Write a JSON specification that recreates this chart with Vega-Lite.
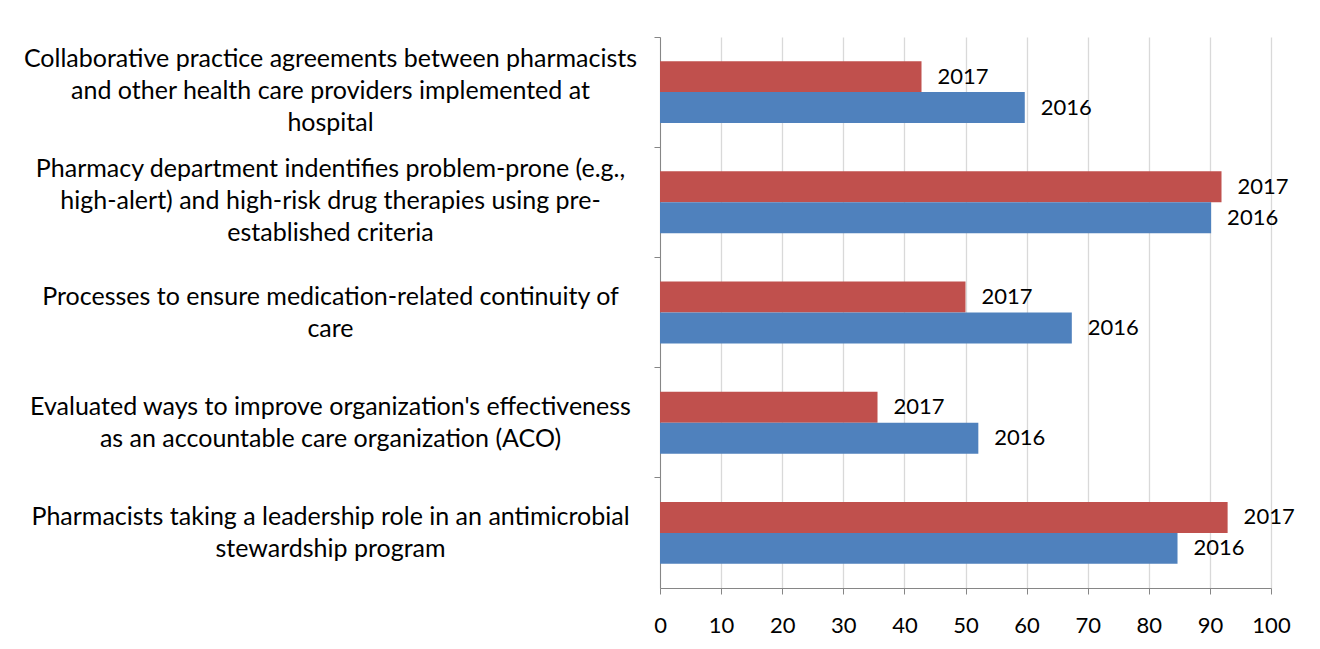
{
  "$schema": "https://vega.github.io/schema/vega-lite/v6.json",
  "autosize": {"type": "none"},
  "width": 611,
  "height": 551,
  "padding": {"left": 660, "top": 37, "right": 49, "bottom": 61},
  "background": "white",
  "config": {
    "view": {"stroke": null},
    "font": "Lato",
    "text": {"font": "Lato"}
  },
  "data": {
    "values": [
      {"item": "Collaborative practice agreements between pharmacists|and other health care providers implemented at|hospital", "year": "2017", "pct": 42.8},
      {"item": "Collaborative practice agreements between pharmacists|and other health care providers implemented at|hospital", "year": "2016", "pct": 59.7},
      {"item": "Pharmacy department indentifies problem-prone (e.g.,|high-alert) and high-risk drug therapies using pre-|established criteria", "year": "2017", "pct": 91.9},
      {"item": "Pharmacy department indentifies problem-prone (e.g.,|high-alert) and high-risk drug therapies using pre-|established criteria", "year": "2016", "pct": 90.2},
      {"item": "Processes to ensure medication-related continuity of|care", "year": "2017", "pct": 50.0},
      {"item": "Processes to ensure medication-related continuity of|care", "year": "2016", "pct": 67.4},
      {"item": "Evaluated ways to improve  organization's effectiveness|as an accountable care organization (ACO)", "year": "2017", "pct": 35.6},
      {"item": "Evaluated ways to improve  organization's effectiveness|as an accountable care organization (ACO)", "year": "2016", "pct": 52.1},
      {"item": "Pharmacists taking a leadership role in an antimicrobial|stewardship program", "year": "2017", "pct": 92.9},
      {"item": "Pharmacists taking a leadership role in an antimicrobial|stewardship program", "year": "2016", "pct": 84.7}
    ]
  },
  "encoding": {
    "y": {
      "field": "item",
      "type": "nominal",
      "sort": null,
      "title": null,
      "scale": {"paddingInner": 0, "paddingOuter": 0},
      "axis": {
        "bandPosition": 0,
        "labelExpr": "split(datum.label, '|')",
        "labelAlign": "center",
        "labelBaseline": "middle",
        "labelLineHeight": 32,
        "labelPadding": 324,
        "labelLimit": 0,
        "labelFontSize": 25,
        "labelColor": "#000000",
        "labelFont": "Lato",
        "labelOffset": {
          "condition": {"test": "length(split(datum.value, '|')) == 3", "value": -33},
          "value": -16
        },
        "tickSize": 6,
        "tickColor": "#868686",
        "domainColor": "#868686",
        "grid": false
      }
    },
    "yOffset": {
      "field": "year",
      "type": "nominal",
      "sort": ["2017", "2016"],
      "scale": {"paddingInner": 0, "paddingOuter": 0.78}
    },
    "x": {
      "field": "pct",
      "type": "quantitative",
      "title": null,
      "scale": {"domain": [0, 100], "nice": false},
      "axis": {
        "values": [0, 10, 20, 30, 40, 50, 60, 70, 80, 90, 100],
        "grid": true,
        "gridColor": "#d9d9d9",
        "gridWidth": 1.3,
        "domainColor": "#868686",
        "tickColor": "#868686",
        "tickSize": 6,
        "labelFontSize": 22,
        "labelColor": "#000000",
        "labelFont": "Lato",
        "labelPadding": 21,
        "labelFlush": false
      }
    }
  },
  "layer": [
    {
      "mark": {"type": "bar"},
      "encoding": {
        "color": {
          "field": "year",
          "type": "nominal",
          "scale": {"domain": ["2017", "2016"], "range": ["#C0504D", "#4F81BD"]},
          "legend": null
        }
      }
    },
    {
      "mark": {"type": "text", "align": "left", "baseline": "middle", "dx": 16, "fontSize": 22, "font": "Lato", "color": "#000000"},
      "encoding": {
        "text": {"field": "year", "type": "nominal"}
      }
    }
  ]
}
